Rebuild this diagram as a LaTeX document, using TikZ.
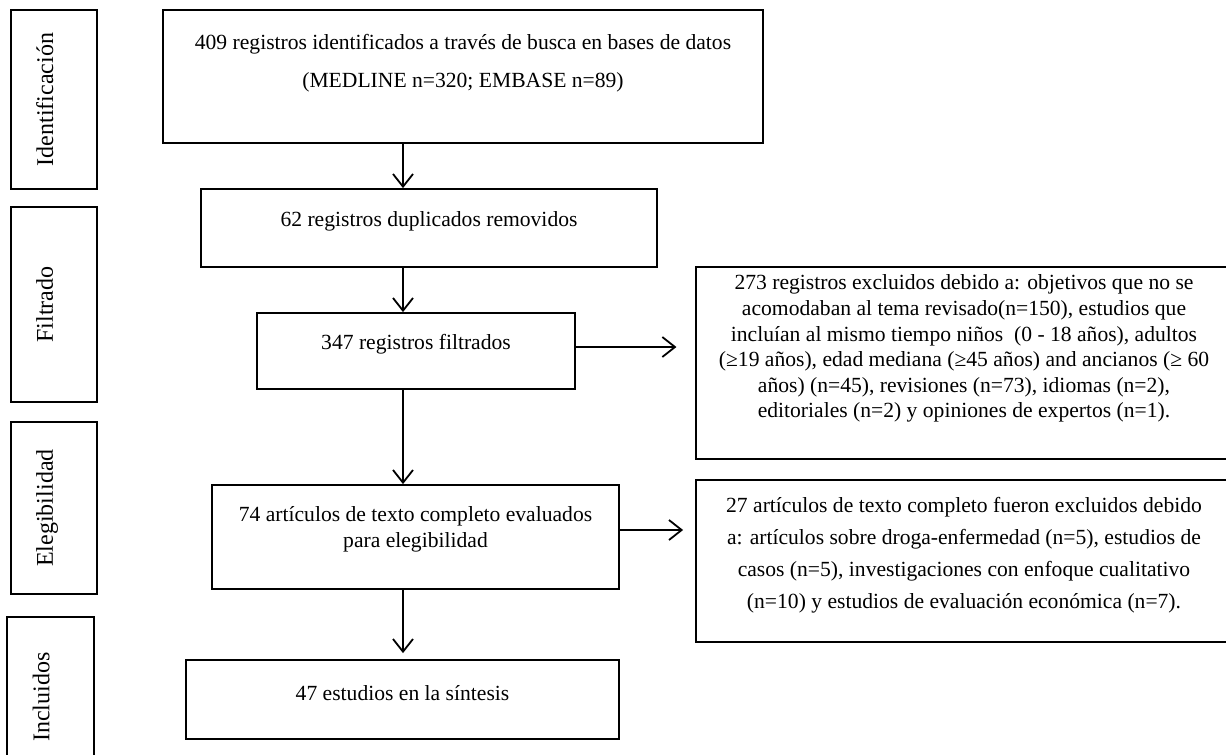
\documentclass[tikz,border=0pt]{standalone}
\usepackage{fontspec}
\setmainfont{Liberation Serif}
\usetikzlibrary{arrows.meta}

\begin{document}
\begin{tikzpicture}[x=0.75pt, y=-0.75pt, line width=1.35pt,
    >={Straight Barb[length=9.5pt,width=15pt]},
    box/.style={draw=black, rectangle, align=center, inner sep=0pt,
        font=\fontsize{16.2}{19.2}\selectfont},
    phase/.style={draw=black, rectangle, rotate=90, inner sep=0pt,
        minimum height=64.5pt, text depth=14pt,
        font=\fontsize{18}{22}\selectfont}]
    \useasboundingbox (0,0) rectangle (1226,754);
    \clip (0,0) rectangle (1226,754);

    % Phase labels on the left
    \node[phase, minimum width=134.25pt] (iden) at (54,99.5) {Identificación};
    \node[phase, minimum width=146.25pt] (filt) at (54,304.5) {Filtrado};
    \node[phase, minimum width=129pt] (eleg) at (54,508) {Elegibilidad};
    \node[phase, minimum width=120pt, minimum height=65.25pt] (incl) at (50.5,697) {Incluidos};

    % Draw nodes
    \node[box, minimum width=450pt, minimum height=99.75pt, text depth=24pt,
        font=\fontsize{16.2}{28.5}\selectfont] (srch) at (463,76.5)
        {409 registros identificados a través de busca en bases de datos\\(MEDLINE n=320; EMBASE n=89)};
    \node[box, minimum width=342pt, minimum height=58.5pt, text depth=13pt] (dup) at (429,228) {62 registros duplicados removidos};
    \node[box, minimum width=238.5pt, minimum height=57pt, text depth=13pt] (filtd) at (416,351) {347 registros filtrados};
    \node[box, minimum width=305.25pt, minimum height=78pt, text depth=14.5pt,
        font=\fontsize{16.2}{19.5}\selectfont] (full) at (415.5,537)
        {74 artículos de texto completo evaluados\\para elegibilidad};
    \node[box, minimum width=324.75pt, minimum height=59.25pt, text depth=10.5pt] (synth) at (402.5,699.5) {47 estudios en la síntesis};

    \node[box, minimum width=402pt, minimum height=144pt, text depth=25pt] (excl1) at (964,363)
        {273 registros excluidos debido a: objetivos que no se\\
        acomodaban al tema revisado(n=150), estudios que\\
        incluían al mismo tiempo niños\ \ (0 - 18 años), adultos\\
        (≥19 años), edad mediana (≥45 años) and ancianos (≥ 60\\
        años) (n=45), revisiones (n=73), idiomas (n=2),\\
        editoriales (n=2) y opiniones de expertos (n=1).};
    \node[box, minimum width=402pt, minimum height=121.5pt, text depth=11.5pt,
        font=\fontsize{16.2}{24}\selectfont] (excl2) at (964,561)
        {27 artículos de texto completo fueron excluidos debido\\
        a: artículos sobre droga-enfermedad (n=5), estudios de\\
        casos (n=5), investigaciones con enfoque cualitativo\\
        (n=10) y estudios de evaluación económica (n=7).};

    % Draw edges
    \coordinate (spine) at (403,0);
    \draw[->] (srch.south -| spine) -- (dup.north -| spine);
    \draw[->] (dup.south -| spine) -- (filtd.north -| spine);
    \draw[->] (filtd.south -| spine) -- (full.north -| spine);
    \draw[->, shorten >=4.5pt] (full.south -| spine) -- (synth.north -| spine);
    \draw[->, shorten >=14pt] ([yshift=3pt]filtd.east) -- ([yshift=3pt]filtd.east -| excl1.west);
    \draw[->, shorten >=9pt] ([yshift=5.25pt]full.east) -- ([yshift=5.25pt]full.east -| excl2.west);

\end{tikzpicture}
\end{document}
